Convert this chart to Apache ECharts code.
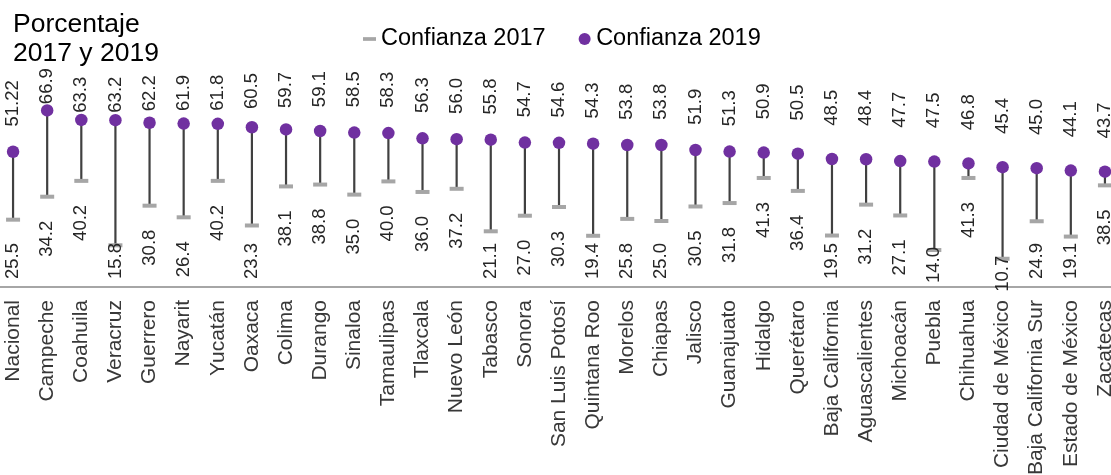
<!DOCTYPE html>
<html>
<head>
<meta charset="utf-8">
<script src="https://cdn.jsdelivr.net/npm/echarts@6/dist/echarts.min.js"></script>
<style>
html,body{margin:0;padding:0;background:#fff;}
#chart{width:1111px;height:475px;}
</style>
</head>
<body>
<div id="chart"></div>
<script>
const categories = ['Nacional','Campeche','Coahuila','Veracruz','Guerrero','Nayarit','Yucatán','Oaxaca','Colima','Durango','Sinaloa','Tamaulipas','Tlaxcala','Nuevo León','Tabasco','Sonora','San Luis Potosí','Quintana Roo','Morelos','Chiapas','Jalisco','Guanajuato','Hidalgo','Querétaro','Baja California','Aguascalientes','Michoacán','Puebla','Chihuahua','Ciudad de México','Baja California Sur','Estado de México','Zacatecas'];
const conf2019 = [51.22,66.9,63.3,63.2,62.2,61.9,61.8,60.5,59.7,59.1,58.5,58.3,56.3,56.0,55.8,54.7,54.6,54.3,53.8,53.8,51.9,51.3,50.9,50.5,48.5,48.4,47.7,47.5,46.8,45.4,45.0,44.1,43.7];
const conf2017 = [25.5,34.2,40.2,15.8,30.8,26.4,40.2,23.3,38.1,38.8,35.0,40.0,36.0,37.2,21.1,27.0,30.3,19.4,25.8,25.0,30.5,31.8,41.3,36.4,19.5,31.2,27.1,14.0,41.3,10.7,24.9,19.1,38.5];

const FONT = "'Liberation Sans', Arial, sans-serif";
const fmt = v => (Math.abs(v * 10 - Math.round(v * 10)) < 1e-9) ? v.toFixed(1) : String(v);
// label gaps (px)
const gapTop = v => v < 51 ? 33 : Math.min(25, Math.max(6, 6 + (63.5 - v) * 4));
const gapBottom = v => Math.min(24, Math.max(-3, v * 2.64 - 44));

const chart = echarts.init(document.getElementById('chart'));
chart.setOption({
  animation: false,
  backgroundColor: '#fff',
  title: {
    text: 'Porcentaje\n2017 y 2019',
    left: 8, top: 5,
    textStyle: {fontFamily: FONT, fontSize: 26.5, fontWeight: 'normal', color: '#000', lineHeight: 29}
  },
  legend: {
    left: 358, top: 22,
    itemWidth: 13, itemHeight: 12, itemGap: 33,
    textStyle: {fontFamily: FONT, fontSize: 23.5, color: '#000'},
    data: [
      {name: 'Confianza 2017', icon: 'path://M0,0H14V4H0Z'},
      {name: 'Confianza 2019', icon: 'circle'}
    ]
  },
  grid: {left: -4, width: 1126, top: 23, bottom: 188, containLabel: false, outerBoundsMode: 'none'},
  xAxis: {
    type: 'category',
    data: categories,
    boundaryGap: true,
    axisLine: {lineStyle: {color: '#A6A6A6', width: 2}},
    axisTick: {show: false},
    axisLabel: {interval: 0, rotate: 90, margin: 13, fontFamily: FONT, fontSize: 21, color: '#383838'}
  },
  yAxis: {type: 'value', min: 0, max: 100, show: false, splitLine: {show: false}},
  series: [
    {
      type: 'custom',
      name: 'rango',
      z: 1,
      silent: true,
      data: categories.map((c, i) => [i, conf2017[i], conf2019[i]]),
      encode: {x: 0, y: [1, 2]},
      renderItem: function (params, api) {
        const a = api.coord([api.value(0), api.value(1)]);
        const b = api.coord([api.value(0), api.value(2)]);
        return {type: 'line', shape: {x1: a[0], y1: a[1], x2: b[0], y2: b[1]},
                style: {stroke: '#404040', lineWidth: 2.2}};
      }
    },
    {
      type: 'scatter',
      name: 'Confianza 2017',
      z: 2,
      symbol: 'rect',
      symbolSize: [14, 4],
      itemStyle: {color: '#A6A6A6', opacity: 1},
      data: conf2017.map((v, i) => ({value: [i, v], label: {distance: gapBottom(v) - 2}})),
      label: {
        show: true, position: 'bottom', rotate: 90, align: 'right', verticalAlign: 'middle',
        fontFamily: FONT, fontSize: 18.5, color: '#262626',
        formatter: p => fmt(p.value[1])
      }
    },
    {
      type: 'scatter',
      name: 'Confianza 2019',
      z: 3,
      symbol: 'circle',
      symbolSize: 12.5,
      itemStyle: {color: '#7030A0', opacity: 1},
      data: conf2019.map((v, i) => ({value: [i, v], label: {distance: gapTop(v) - 6}})),
      label: {
        show: true, position: 'top', rotate: 90, align: 'left', verticalAlign: 'middle',
        fontFamily: FONT, fontSize: 18.5, color: '#262626',
        formatter: p => fmt(p.value[1])
      }
    }
  ]
});
</script>
</body>
</html>
